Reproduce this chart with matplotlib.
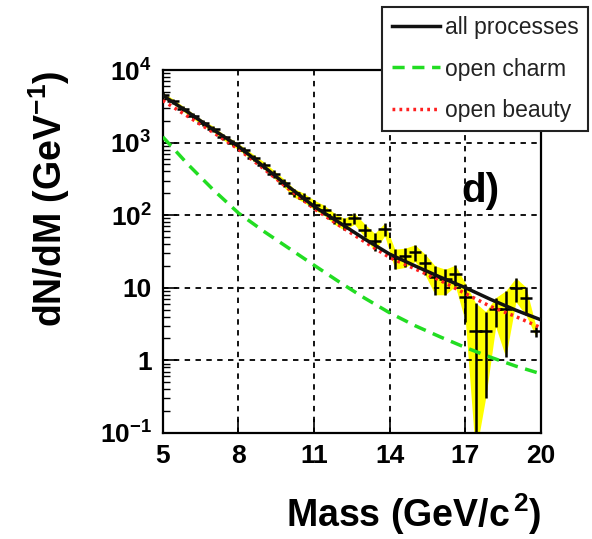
import matplotlib.pyplot as plt
import numpy as np

plt.rcParams['font.family'] = ['Liberation Sans', 'DejaVu Sans']
plt.rcParams['mathtext.fontset'] = 'custom'
plt.rcParams['mathtext.rm'] = 'Liberation Sans:bold'
plt.rcParams['mathtext.it'] = 'Liberation Sans:bold'
plt.rcParams['mathtext.bf'] = 'Liberation Sans:bold'

# model curves (values at integer masses)
curve_mass = [5, 6, 7, 8, 9, 10, 11, 12, 13, 14, 15, 16, 17, 18, 19, 20]
all_proc = [4470, 2630, 1510, 891, 468, 245, 132, 79, 47, 29, 20, 14, 10, 6.9, 4.9, 3.6]
open_charm = [1200, 500, 224, 107, 60, 35, 20.4, 12, 7.2, 4.5, 3.0, 2.1, 1.5, 1.1, 0.83, 0.65]
open_beauty = [3800, 2290, 1380, 813, 437, 229, 123, 72, 43, 26, 18.2, 12.6, 8.3, 5.5, 4.0, 2.8]

# data points
mass = [5.0, 5.4, 5.8, 6.2, 6.6, 7.0, 7.4, 7.8, 8.2, 8.6, 9.0, 9.4, 9.8,
        10.2, 10.6, 11.0, 11.4, 11.8, 12.2, 12.6, 13.0, 13.4, 13.8, 14.2,
        14.6, 15.0, 15.4, 15.8, 16.2, 16.6, 17.0, 17.4, 17.8, 18.2, 18.6,
        19.0, 19.4, 19.8]
counts = [4570, 3720, 2950, 2340, 1860, 1550, 1200, 980, 790, 620, 490, 370, 280,
          205, 175, 140, 118, 91, 76, 91, 63, 44, 65, 26,
          27, 31, 22, 14, 13, 15.5, 7.4, 2.5, 2.5, 5.1, 5.1,
          10, 7.2, 2.5]
errors = [350, 290, 240, 200, 160, 140, 110, 95, 80, 65, 55, 45, 36,
          28, 25, 21, 19, 16, 14, 16, 13, 12, 13, 8,
          8, 8, 7, 6, 5, 5, 4, 3.7, 2.2, 2.2, 4,
          3.6, 3, 0.4]

counts = np.array(counts)
errors = np.array(errors)
low = np.clip(counts - errors, 0.05, None)
high = counts + errors

fig = plt.figure(figsize=(5.92, 5.39), dpi=100)
ax = fig.add_axes([0.275, 0.197, 0.639, 0.673])

ax.fill_between(mass, low, high, color='#ffff00', lw=0, zorder=1)
ax.errorbar(mass, counts, xerr=0.25, yerr=[counts - low, errors], fmt='none',
            ecolor='black', elinewidth=1.8, capsize=0, zorder=2)

l1, = ax.plot(curve_mass, all_proc, color='#111111', lw=2.5, zorder=4)
l2, = ax.plot(curve_mass, open_charm, color='#22dd22', lw=2.5,
              dashes=(3.5, 2.2), zorder=3)
l3, = ax.plot(curve_mass, open_beauty, color='#ff2020', lw=2.5,
              dashes=(0.8, 1.2), zorder=3)

ax.set_yscale('log')
ax.set_xlim(5, 20)
ax.set_ylim(0.1, 1e4)

ax.set_xticks([5, 8, 11, 14, 17, 20])
ax.set_xticklabels(['5', '8', '11', '14', '17', '20'], fontsize=19, fontweight='bold')
ax.set_yticks([0.1, 1, 10, 100, 1000, 10000])
ax.set_yticklabels([r'$10^{-1}$', '1', '10', r'$10^{2}$', r'$10^{3}$', r'$10^{4}$'],
                   fontsize=19, fontweight='bold')
ax.tick_params(axis='both', which='major', direction='in', length=10, width=1.2,
               top=False, right=False, pad=8)
ax.tick_params(axis='y', which='minor', direction='in', length=5, width=1.0, right=False)

ax.grid(True, which='major', color='black', linestyle=(0, (3, 3)), lw=1.3)
for s in ax.spines.values():
    s.set_linewidth(1.6)

ax.set_xlabel(r'Mass (GeV/c$^{\,2}$)', fontsize=27, fontweight='bold', loc='right', labelpad=17)
ax.set_ylabel(r'dN/dM (GeV$^{-1}$)', fontsize=27, fontweight='bold', loc='top', labelpad=20)

ax.text(0.79, 0.667, 'd)', transform=ax.transAxes, fontsize=29, fontweight='bold',
        va='center', ha='left')

leg = fig.legend([l1, l2, l3], ['all processes', 'open charm', 'open beauty'],
                 loc='upper left', bbox_to_anchor=(0.646, 0.987), fontsize=16.5,
                 frameon=True, fancybox=False, edgecolor='#222222', framealpha=1,
                 handlelength=2.1, handletextpad=0.25, labelspacing=0.8,
                 borderpad=0.4, borderaxespad=0, labelcolor='#222222')
leg.get_frame().set_linewidth(1.5)

fig.savefig('out.png', dpi=100)
